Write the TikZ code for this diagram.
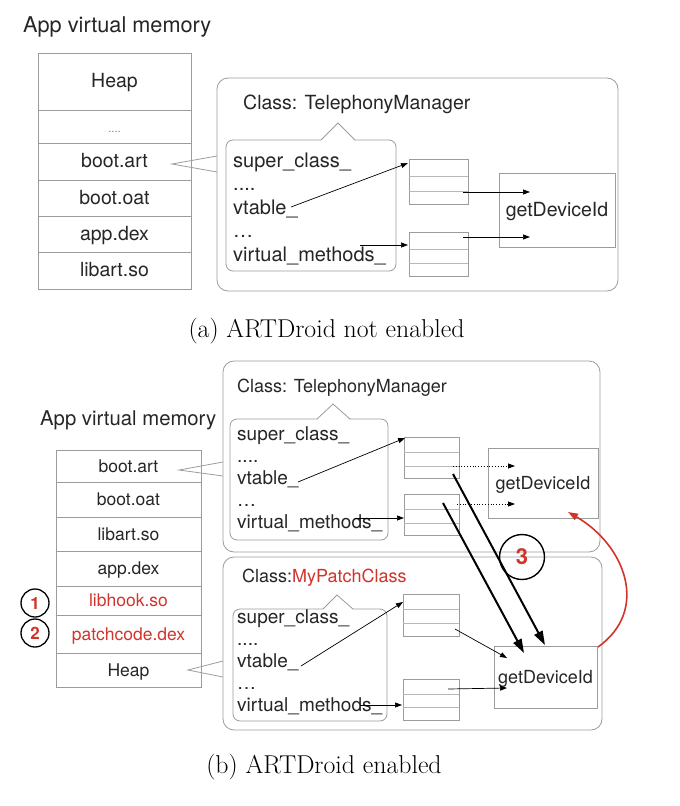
\documentclass[tikz,border=0pt]{standalone}
\usepackage{fontspec}
\newfontfamily\hv{TeX Gyre Heros}
\usetikzlibrary{arrows.meta}
\definecolor{bord}{HTML}{9C9C9C}
\definecolor{lite}{HTML}{B8B8B8}
\definecolor{txt}{HTML}{262626}
\definecolor{myred}{HTML}{D2332B}
\begin{document}
\begin{tikzpicture}[x=1pt,y=-1pt,
  fa/.style={font=\hv\fontsize{19.5}{20}\selectfont},
  fb/.style={font=\hv\fontsize{18}{19}\selectfont},
  fm/.style={font=\hv\fontsize{17.5}{18}\selectfont},
  lbl/.style={text=txt, inner sep=0pt, anchor=base west},
  cell/.style={draw=bord, line width=0.7pt, fill=white, text=txt, inner sep=0pt,
    text height=12.5pt, text depth=0pt},
  clsbox/.style={draw=bord, line width=0.8pt, rounded corners=11pt, fill=white, inner sep=0pt},
  callout/.style={draw=bord, line width=0.8pt, fill=white, rounded corners=7pt},
  notch/.style={draw=bord, line width=0.8pt},
  vt/.style={draw=bord, line width=0.7pt, fill=white, inner sep=0pt},
  vtl/.style={draw=lite, line width=0.6pt},
  gbox/.style={draw=bord, line width=0.8pt, fill=white, inner sep=0pt, text=txt,
    text height=13pt, text depth=0pt},
  arr/.style={-{Triangle[length=7pt,width=5pt]}, line width=0.7pt, black},
  darr/.style={-{Triangle[length=7pt,width=5pt]}, line width=0.8pt, black, dotted},
  thickarr/.style={-{Triangle[length=14pt,width=9pt]}, line width=2pt, black},
  num/.style={circle, draw=black, line width=1.3pt, inner sep=0pt, minimum size=28pt,
    text=myred, font=\hv\bfseries\fontsize{17}{17}\selectfont},
  captxt/.style={font=\fontsize{25.8}{26}\selectfont, text=black, inner sep=0pt}
]
\useasboundingbox (0,0) rectangle (680,806);

% ================= (a) =================
\node[text=txt, inner sep=0pt, anchor=west, font=\hv\fontsize{21.7}{22}\selectfont,
  text height=15pt, text depth=0pt] (titleA) at (23,25) {App virtual memory};

\node[cell, fa, minimum width=153pt, minimum height=57pt] (mA1) at (114.5,81.5) {Heap};
\node[cell, minimum width=153pt, minimum height=33pt, font=\hv\fontsize{11}{11}\selectfont, text=gray] (mA2) at (114.5,126.5) {....};
\node[cell, fa, minimum width=153pt, minimum height=37pt] (mA3) at (114.5,161.5) {boot.art};
\node[cell, fa, minimum width=153pt, minimum height=36pt] (mA4) at (114.5,198) {boot.oat};
\node[cell, fa, minimum width=153pt, minimum height=36pt] (mA5) at (114.5,234) {app.dex};
\node[cell, fa, minimum width=153pt, minimum height=37pt] (mA6) at (114.5,270.5) {libart.so};

\coordinate (ptA) at (172,164);
\draw[bord, line width=0.8pt] (217,156) -- (ptA) -- (217,172);

\node[clsbox, minimum width=401pt, minimum height=213pt] (clsA) at (417.5,184.5) {};
\node[lbl, fa, anchor=west, text height=13.7pt, text depth=0pt] (ttA) at (243,103) {Class: TelephonyManager};
\draw[callout] (226,140) rectangle (396,271);
\fill[white] (321,141) -- (338,123) -- (355,141) -- cycle;
\draw[notch] (321,140) -- (338,123) -- (355,140);
\node[lbl, font=\hv\fontsize{20}{20}\selectfont] (scA) at (233,167) {super\_class\_};
\node[lbl, font=\hv\fontsize{20}{20}\selectfont] (d1A) at (233,190.5) {....};
\node[lbl, font=\hv\fontsize{20}{20}\selectfont] (vtA) at (233,214) {vtable\_};
\node[lbl, font=\hv\fontsize{20}{20}\selectfont] (d2A) at (233,237.5) {…};
\node[lbl, font=\hv\fontsize{20}{20}\selectfont] (vmA) at (233,261) {virtual\_methods\_};

\node[vt, minimum width=59pt, minimum height=45pt] (vA1) at (438.5,181.5) {};
\draw[vtl] (409,176) -- (468,176) (409,191) -- (468,191);
\node[vt, minimum width=59pt, minimum height=44pt] (vA2) at (438.5,254) {};
\draw[vtl] (409,249) -- (468,249) (409,263) -- (468,263);

\node[gbox, fa, minimum width=116pt, minimum height=74pt] (gA) at (557,210) {getDeviceId};

\coordinate (a1) at (408,163);
\coordinate (a2s) at (360,245);
\coordinate (a2) at (408,245);
\coordinate (a3s) at (463,192);
\coordinate (a3) at (530,192);
\coordinate (a4s) at (463,237);
\coordinate (a4) at (530,237);
\draw[arr] (291,207) -- (a1);
\draw[arr] (a2s) -- (a2);
\draw[arr] (a3s) -- (a3);
\draw[arr] (a4s) -- (a4);

\node[captxt] (capA) at (326.5,331) {(a) ARTDroid not enabled};

% ================= (b) =================
\node[text=txt, inner sep=0pt, anchor=west, font=\hv\fontsize{20.3}{21}\selectfont,
  text height=14.6pt, text depth=0pt] (titleB) at (40,418) {App virtual memory};

\node[cell, fm, minimum width=145pt, minimum height=32pt] (mB1) at (128.5,466) {boot.art};
\node[cell, fm, minimum width=145pt, minimum height=35pt] (mB2) at (128.5,499.5) {boot.oat};
\node[cell, fm, minimum width=145pt, minimum height=34pt] (mB3) at (128.5,534) {libart.so};
\node[cell, fm, minimum width=145pt, minimum height=35pt] (mB4) at (128.5,568.5) {app.dex};
\node[cell, fm, minimum width=145pt, minimum height=29pt, text=myred] (mB5) at (128.5,600.5) {libhook.so};
\node[cell, fm, minimum width=145pt, minimum height=38pt, text=myred] (mB6) at (128.5,634) {patchcode.dex};
\node[cell, fm, minimum width=145pt, minimum height=34pt] (mB7) at (128.5,670) {Heap};

\node[num] (n1) at (35,603) {1};
\node[num] (n2) at (35,633) {2};

\coordinate (ptB) at (179,470);
\coordinate (ptC) at (188,670);
\draw[bord, line width=0.8pt] (223,462) -- (ptB) -- (223,476);
\draw[bord, line width=0.8pt] (223,661) -- (ptC) -- (223,677);

% top class box
\node[clsbox, minimum width=377pt, minimum height=191pt] (clsB) at (411.5,456.5) {};
\node[lbl, fb, anchor=west, text height=12.6pt, text depth=0pt] (ttB) at (237,386) {Class: TelephonyManager};
\draw[callout] (230,419) rectangle (388,540);
\fill[white] (317,420) -- (333,404) -- (350,420) -- cycle;
\draw[notch] (317,419) -- (333,404) -- (350,419);
\node[lbl, font=\hv\fontsize{19}{19}\selectfont] (scB) at (237,440) {super\_class\_};
\node[lbl, font=\hv\fontsize{19}{19}\selectfont] (d1B) at (237,462) {....};
\node[lbl, font=\hv\fontsize{19}{19}\selectfont] (vtB) at (237,484) {vtable\_};
\node[lbl, font=\hv\fontsize{19}{19}\selectfont] (d2B) at (237,506) {…};
\node[lbl, font=\hv\fontsize{19}{19}\selectfont] (vmB) at (237,528) {virtual\_methods\_};

\node[vt, minimum width=55pt, minimum height=41pt] (vB1) at (431.5,457.5) {};
\draw[vtl] (404,452) -- (459,452) (404,466) -- (459,466);
\node[vt, minimum width=55pt, minimum height=41pt] (vB2) at (431.5,514.5) {};
\draw[vtl] (404,509) -- (459,509) (404,523) -- (459,523);

\node[gbox, fb, minimum width=110pt, minimum height=70pt] (gB) at (543,483) {getDeviceId};

\coordinate (b1) at (405,438);
\coordinate (b2s) at (355,518);
\coordinate (b2) at (404,518);
\coordinate (b3s) at (453,466);
\coordinate (b3) at (515,466);
\coordinate (b4s) at (457,504);
\coordinate (b4) at (515,504);
\draw[arr] (298,482) -- (b1);
\draw[arr] (b2s) -- (b2);
\draw[darr] (b3s) -- (b3);
\draw[darr] (b4s) -- (b4);

% bottom class box
\node[clsbox, minimum width=379pt, minimum height=173pt] (clsC) at (412.5,643.5) {};
\node[lbl, fb, anchor=west, text height=12.6pt, text depth=0pt] (ttC) at (242,576) {Class:\textcolor{myred}{MyPatchClass}};
\draw[callout] (233,609) rectangle (387,721);
\fill[white] (323,610) -- (337,595) -- (353,610) -- cycle;
\draw[notch] (323,609) -- (337,595) -- (353,609);
\node[lbl, font=\hv\fontsize{19}{19}\selectfont] (scC) at (237,623) {super\_class\_};
\node[lbl, font=\hv\fontsize{19}{19}\selectfont] (d1C) at (237,645) {....};
\node[lbl, font=\hv\fontsize{19}{19}\selectfont] (vtC) at (237,667) {vtable\_};
\node[lbl, font=\hv\fontsize{19}{19}\selectfont] (d2C) at (237,689) {…};
\node[lbl, font=\hv\fontsize{19}{19}\selectfont] (vmC) at (237,711) {virtual\_methods\_};

\node[vt, minimum width=56pt, minimum height=42pt] (vC1) at (431,615) {};
\draw[vtl] (403,609) -- (459,609) (403,623) -- (459,623);
\node[vt, minimum width=56pt, minimum height=41pt] (vC2) at (431,699.5) {};
\draw[vtl] (403,694) -- (459,694) (403,707) -- (459,707);

\node[gbox, fb, minimum width=103pt, minimum height=62pt] (gC) at (545.5,677) {getDeviceId};

\coordinate (c1) at (403,602);
\coordinate (c2s) at (455,629);
\coordinate (c2) at (507,658);
\coordinate (c3s) at (360,705);
\coordinate (c3) at (402,705);
\coordinate (c4s) at (448,689);
\coordinate (c4) at (507,688);
\draw[arr] (301,666) -- (c1);
\draw[arr] (c2s) -- (c2);
\draw[arr] (c3s) -- (c3);
\draw[arr] (c4s) -- (c4);

% thick redirection arrows
\coordinate (t1s) at (453,474);
\coordinate (t1) at (545,645);
\coordinate (t2s) at (443,503);
\coordinate (t2) at (524,653);
\draw[thickarr] (t1s) -- (t1);
\draw[thickarr] (t2s) -- (t2);

\node[circle, draw=black, line width=1.4pt, minimum size=45pt, inner sep=0pt,
  text=myred, font=\hv\bfseries\fontsize{22}{22}\selectfont] (n3) at (522,557) {3};

% red return arc
\coordinate (r0) at (598,647);
\coordinate (r1) at (568,512);
\draw[myred, line width=1.6pt, -{Triangle[length=10pt,width=7pt]}]
  (r0) .. controls (650,610) and (625,545) .. (r1);

\node[captxt] (capB) at (324,767) {(b) ARTDroid enabled};
\end{tikzpicture}
\end{document}
